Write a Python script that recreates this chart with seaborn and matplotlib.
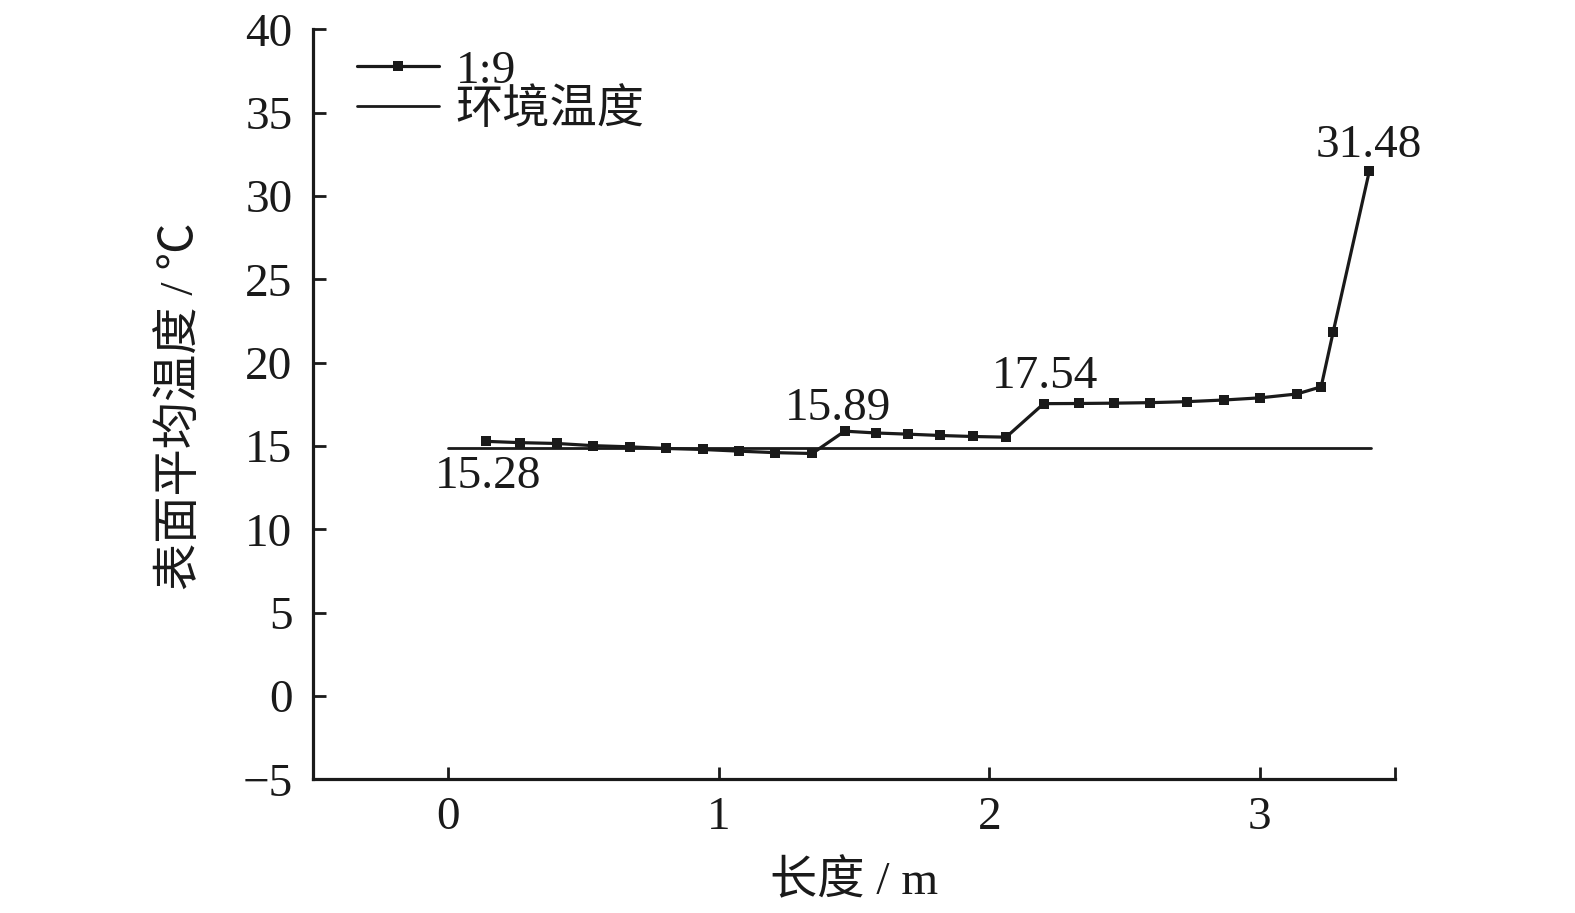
import matplotlib
matplotlib.use("Agg")
import matplotlib.pyplot as plt
import seaborn as sns
import numpy as np
import pandas as pd

# Data
length_m = [0.137, 0.266, 0.402, 0.535, 0.670, 0.806, 0.941, 1.076, 1.209, 1.345,
            1.465, 1.582, 1.699, 1.819, 1.938, 2.062,
            2.201, 2.330, 2.460, 2.595, 2.731, 2.869, 3.002, 3.137, 3.227, 3.271, 3.405]
temp_c = [15.28, 15.20, 15.15, 15.02, 14.95, 14.85, 14.79, 14.69, 14.60, 14.55,
          15.89, 15.78, 15.71, 15.63, 15.57, 15.53,
          17.54, 17.55, 17.57, 17.60, 17.66, 17.76, 17.89, 18.12, 18.55, 21.81, 31.48]
ambient_x = [0.0, 3.41]
ambient_y = [14.88, 14.88]
label_idx = [0, 10, 16, 26]
label_text = ["15.28", "15.89", "17.54", "31.48"]
xticks = [0, 1, 2, 3]
yticks = list(range(-5, 45, 5))

sns.set_theme(style="ticks")
fams = ["Liberation Serif", "Noto Sans CJK SC"]
plt.rcParams["font.family"] = fams
plt.rcParams["axes.unicode_minus"] = True

FS = 34
INK = "#1a1a1a"

fig = plt.figure(figsize=(15.75, 9.13), dpi=100)
ax = fig.add_axes([0.1989, 0.1464, 0.8857 - 0.1989, 0.9679 - 0.1464])

df = pd.DataFrame({"x": length_m, "y": temp_c})
amb = pd.DataFrame({"x": ambient_x, "y": ambient_y})

sns.lineplot(data=df, x="x", y="y", ax=ax, color=INK, lw=2.3,
             marker="s", markersize=7.5, markeredgewidth=0, label="1:9")
sns.lineplot(data=amb, x="x", y="y", ax=ax, color=INK, lw=2.0, label="环境温度")

offsets = [(0.01, -2.82), (-0.023, 0.66), (0.005, 0.95), (0.0, 0.86)]
for i, t, (dx, dy) in zip(label_idx, label_text, offsets):
    ax.text(length_m[i] + dx, temp_c[i] + dy, t, ha="center", va="baseline",
            fontsize=FS, family=fams, color=INK)

ax.set_xlim(-0.5, 3.5)
ax.set_ylim(-5, 40)
ax.set_xticks(xticks + [3.5])
ax.set_xticklabels([str(v) for v in xticks] + [""])
ax.set_yticks(yticks)
ax.set_yticklabels([str(v).replace("-", "\u2212") for v in yticks])
ax.tick_params(direction="in", length=9, width=2.0, labelsize=FS, colors=INK)
ax.tick_params(axis="y", pad=15)
ax.tick_params(axis="x", pad=12)
for s in ["top", "right"]:
    ax.spines[s].set_visible(False)
for s in ["left", "bottom"]:
    ax.spines[s].set_linewidth(2.3)
    ax.spines[s].set_color(INK)

ax.set_xlabel("长度 / m", fontsize=FS, family=fams, color=INK)
ax.set_ylabel("表面平均温度 / ℃", fontsize=FS, family=fams, color=INK)
ax.xaxis.set_label_coords(0.4997, -0.108)
ax.yaxis.set_label_coords(-0.101, 0.497)

leg = ax.legend(loc="upper left", frameon=False, fontsize=FS, handlelength=1.75,
                handletextpad=0.35, labelspacing=-0.08, borderaxespad=0.0,
                borderpad=0.0, bbox_to_anchor=(0.04, 0.973))
for txt in leg.get_texts():
    txt.set_color(INK)

fig.savefig("out.png", dpi=100)
